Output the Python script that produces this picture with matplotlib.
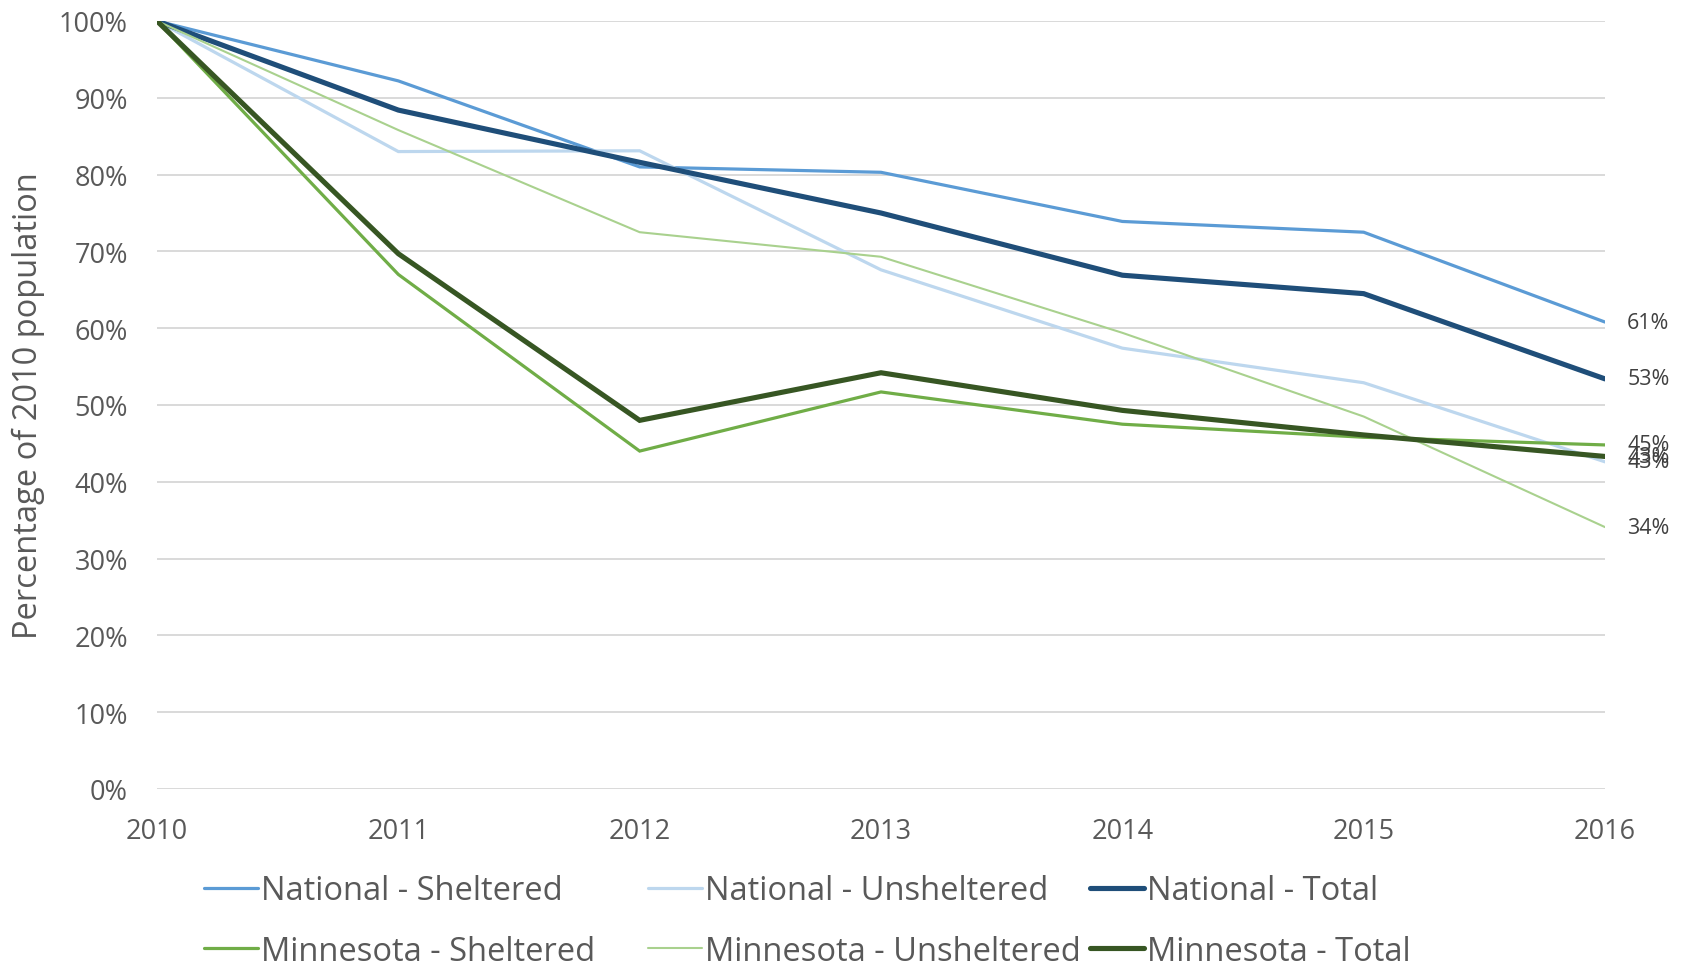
import matplotlib
matplotlib.use('Agg')
import matplotlib.pyplot as plt

years = [2010, 2011, 2012, 2013, 2014, 2015, 2016]

nat_sheltered = [100, 92.2, 81.0, 80.3, 73.9, 72.5, 60.8]
nat_unsheltered = [100, 83.0, 83.1, 67.6, 57.4, 52.9, 42.6]
nat_total = [100, 88.4, 81.6, 75.0, 66.9, 64.5, 53.4]
mn_sheltered = [100, 67.0, 44.0, 51.7, 47.5, 45.8, 44.8]
mn_unsheltered = [100, 85.8, 72.5, 69.3, 59.4, 48.5, 34.1]
mn_total = [100, 69.7, 48.0, 54.2, 49.3, 46.1, 43.3]

end_labels = ['61%', '43%', '53%', '45%', '34%', '43%']

series = [
    ('National - Sheltered', nat_sheltered, '#5B9BD5', 2.3),
    ('National - Unsheltered', nat_unsheltered, '#BDD7EE', 2.3),
    ('National - Total', nat_total, '#1F4E79', 3.7),
    ('Minnesota - Sheltered', mn_sheltered, '#70AD47', 2.3),
    ('Minnesota - Unsheltered', mn_unsheltered, '#A9D18E', 1.5),
    ('Minnesota - Total', mn_total, '#375623', 3.7),
]

plt.rcParams['font.family'] = ['Open Sans', 'DejaVu Sans']

fig = plt.figure(figsize=(16.84, 9.70), dpi=100)
ax = fig.add_axes([157/1684, 1 - 790/970, (1605 - 157)/1684, (790 - 22)/970])

lines = {}
for (name, vals, color, lw), lab in zip(series, end_labels):
    ln, = ax.plot(years, vals, color=color, lw=lw, label=name, solid_capstyle='round',
                  solid_joinstyle='miter', zorder=3)
    lines[name] = ln
    ax.annotate(lab, (years[-1], vals[-1]), xytext=(16, 0), textcoords='offset points',
                va='center', ha='left', fontsize=15.5, color='#404040')

ax.set_xlim(2010, 2016)
ax.set_ylim(0, 100)
ax.set_yticks(range(0, 101, 10))
ax.set_yticklabels([f'{v}%' for v in range(0, 101, 10)])
ax.set_xticks(years)
ax.grid(axis='y', color='#D9D9D9', lw=1.4, zorder=0)
for s in ax.spines.values():
    s.set_visible(False)
ax.tick_params(axis='both', length=0, labelsize=19.5, labelcolor='#595959')
ax.tick_params(axis='y', pad=21)
ax.tick_params(axis='x', pad=20)
ax.set_ylabel('Percentage of 2010 population', fontsize=23.5, color='#595959', labelpad=10)

# legend: three fixed-width columns, two rows (like Excel)
columns = [('National - Sheltered', 'Minnesota - Sheltered'),
           ('National - Unsheltered', 'Minnesota - Unsheltered'),
           ('National - Total', 'Minnesota - Total')]
col_x = [204, 648, 1090]
for names, x0 in zip(columns, col_x):
    leg = fig.legend([lines[n] for n in names], names, loc='center left',
                     bbox_to_anchor=(x0/1684, 1 - 922/970), frameon=False,
                     prop={'size': 23.5}, handlelength=1.65, handletextpad=0.1,
                     labelspacing=0.85, borderpad=0, borderaxespad=0)
    for t in leg.get_texts():
        t.set_color('#595959')

fig.savefig('out.png', dpi=100)
